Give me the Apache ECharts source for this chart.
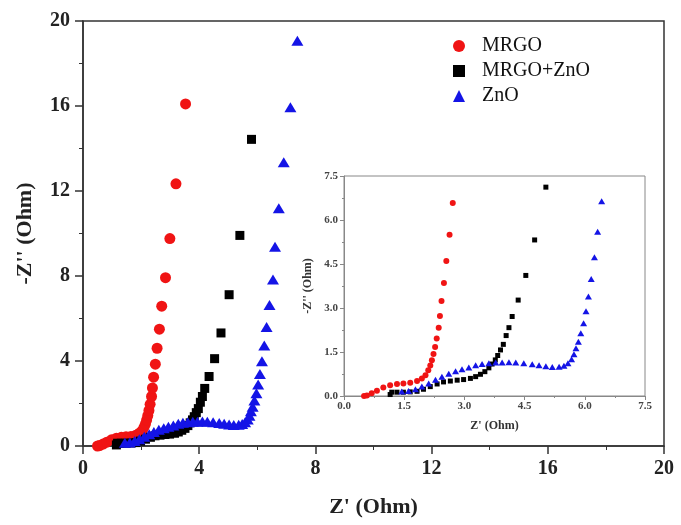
<!DOCTYPE html>
<html>
<head>
<meta charset="utf-8">
<script src="https://cdn.jsdelivr.net/npm/echarts@6/dist/echarts.min.js"></script>
<style>
  html, body { margin: 0; padding: 0; background: #fff; }
  #chart { width: 681px; height: 525px; }
</style>
</head>
<body>
<div id="chart"></div>
<script>
// Nyquist data: Z' (Ohm) / -Z'' (Ohm)
const mrgoX = [0.50, 0.57, 0.69, 0.82, 0.98, 1.15, 1.32, 1.48, 1.65, 1.82, 1.94, 2.03, 2.10, 2.15, 2.19, 2.23, 2.27, 2.31, 2.36, 2.39, 2.43, 2.49, 2.55, 2.63, 2.71, 2.84, 2.99, 3.20, 3.53];
const mrgoY = [0.00, 0.02, 0.09, 0.18, 0.29, 0.37, 0.41, 0.43, 0.45, 0.51, 0.60, 0.71, 0.88, 1.04, 1.22, 1.43, 1.67, 1.96, 2.33, 2.73, 3.24, 3.85, 4.60, 5.50, 6.58, 7.92, 9.76, 12.34, 16.10];

const mixX = [1.15, 1.19, 1.32, 1.48, 1.65, 1.82, 1.98, 2.15, 2.32, 2.48, 2.65, 2.82, 2.98, 3.15, 3.28, 3.40, 3.51, 3.61, 3.69, 3.77, 3.83, 3.90, 3.97, 4.04, 4.11, 4.19, 4.34, 4.53, 4.75, 5.03, 5.40, 5.80];
const mixY = [0.05, 0.13, 0.13, 0.13, 0.14, 0.16, 0.23, 0.32, 0.41, 0.48, 0.51, 0.54, 0.56, 0.60, 0.66, 0.74, 0.83, 0.96, 1.09, 1.23, 1.38, 1.57, 1.76, 2.06, 2.33, 2.71, 3.27, 4.11, 5.32, 7.12, 9.91, 14.43];

const znoX = [1.44, 1.61, 1.78, 1.94, 2.11, 2.28, 2.44, 2.61, 2.78, 2.94, 3.11, 3.28, 3.44, 3.61, 3.78, 3.94, 4.11, 4.28, 4.48, 4.69, 4.86, 5.03, 5.19, 5.36, 5.48, 5.58, 5.67, 5.73, 5.78, 5.84, 5.90, 5.97, 6.03, 6.09, 6.16, 6.24, 6.32, 6.42, 6.54, 6.61, 6.74, 6.91, 7.14, 7.38];
const znoY = [0.15, 0.17, 0.23, 0.32, 0.43, 0.55, 0.66, 0.76, 0.84, 0.91, 0.97, 1.05, 1.09, 1.12, 1.14, 1.14, 1.15, 1.14, 1.12, 1.08, 1.05, 1.01, 0.99, 1.00, 1.03, 1.12, 1.25, 1.42, 1.63, 1.85, 2.14, 2.48, 2.89, 3.39, 3.99, 4.73, 5.60, 6.64, 7.84, 9.38, 11.19, 13.35, 15.94, 19.07];

const seriesNames = ["MRGO", "MRGO+ZnO", "ZnO"];

const FONT = "'Liberation Serif', 'Times New Roman', serif";

function pairs(xs, ys) {
  let out = [];
  for (let i = 0; i < xs.length; i++) out.push([xs[i], ys[i]]);
  return out;
}
// inset only shows the 0 - 7.5 window
function insetPairs(xs, ys) {
  return pairs(xs, ys).filter(p => p[0] <= 7.5 && p[1] <= 7.5);
}

const mainAxisLine = { show: true, lineStyle: { color: '#333', width: 1.5 } };
const insetAxisLine = { show: true, lineStyle: { color: '#888', width: 1 } };

const chart = echarts.init(document.getElementById('chart'));

chart.setOption({
  animation: false,
  backgroundColor: '#fff',
  legend: {
    data: [
      { name: seriesNames[0], icon: 'circle' },
      { name: seriesNames[1], icon: 'rect' },
      { name: seriesNames[2], icon: 'triangle' }
    ],
    orient: 'vertical',
    left: 448,
    top: 31,
    itemWidth: 12,
    itemHeight: 12,
    itemGap: 5,
    textStyle: { fontFamily: FONT, fontSize: 20, color: '#111', padding: [0, 0, 0, 12] }
  },
  grid: [
    { left: 83, right: 17, top: 21, bottom: 79, show: true, borderColor: '#333', borderWidth: 1.5 },
    { left: 344, right: 36, top: 176, bottom: 129, show: true, borderColor: '#888', borderWidth: 1, backgroundColor: '#fff' }
  ],
  xAxis: [
    {
      gridIndex: 0, type: 'value', min: 0, max: 20, interval: 4,
      name: "Z' (Ohm)", nameLocation: 'middle', nameGap: 50,
      nameTextStyle: { fontFamily: FONT, fontSize: 22, fontWeight: 'bold', color: '#222' },
      axisLine: mainAxisLine,
      axisTick: { show: true, inside: false, length: 8, lineStyle: { color: '#333', width: 1.5 } },
      minorTick: { show: true, splitNumber: 2, length: 4, lineStyle: { color: '#333' } },
      axisLabel: { fontFamily: FONT, fontSize: 20, fontWeight: 'bold', color: '#222', margin: 13 },
      splitLine: { show: false }
    },
    {
      gridIndex: 1, type: 'value', min: 0, max: 7.5, interval: 1.5,
      name: "Z' (Ohm)", nameLocation: 'middle', nameGap: 24,
      nameTextStyle: { fontFamily: FONT, fontSize: 12, fontWeight: 'bold', color: '#333' },
      axisLine: insetAxisLine,
      axisTick: { show: true, length: 4, lineStyle: { color: '#888' } },
      minorTick: { show: true, splitNumber: 2, length: 2, lineStyle: { color: '#888' } },
      axisLabel: { fontFamily: FONT, fontSize: 11, fontWeight: 'bold', color: '#444', margin: 5,
        formatter: v => v.toFixed(1) },
      splitLine: { show: false }
    }
  ],
  yAxis: [
    {
      gridIndex: 0, type: 'value', min: 0, max: 20, interval: 4,
      name: "-Z'' (Ohm)", nameLocation: 'middle', nameGap: 47, nameRotate: 90,
      nameTextStyle: { fontFamily: FONT, fontSize: 22, fontWeight: 'bold', color: '#222' },
      axisLine: mainAxisLine,
      axisTick: { show: true, length: 8, lineStyle: { color: '#333', width: 1.5 } },
      minorTick: { show: true, splitNumber: 2, length: 4, lineStyle: { color: '#333' } },
      axisLabel: { fontFamily: FONT, fontSize: 20, fontWeight: 'bold', color: '#222', margin: 13 },
      splitLine: { show: false }
    },
    {
      gridIndex: 1, type: 'value', min: 0, max: 7.5, interval: 1.5,
      name: "-Z'' (Ohm)", nameLocation: 'middle', nameGap: 30, nameRotate: 90,
      nameTextStyle: { fontFamily: FONT, fontSize: 12, fontWeight: 'bold', color: '#333' },
      axisLine: insetAxisLine,
      axisTick: { show: true, length: 4, lineStyle: { color: '#888' } },
      minorTick: { show: true, splitNumber: 2, length: 2, lineStyle: { color: '#888' } },
      axisLabel: { fontFamily: FONT, fontSize: 11, fontWeight: 'bold', color: '#444', margin: 6,
        formatter: v => v.toFixed(1) },
      splitLine: { show: false }
    }
  ],
  series: [
    // main plot, blue drawn over the others like in the picture
    { name: seriesNames[0], type: 'scatter', xAxisIndex: 0, yAxisIndex: 0, symbol: 'circle', symbolSize: 11,
      itemStyle: { color: '#f01414', opacity: 1 }, data: pairs(mrgoX, mrgoY), z: 2 },
    { name: seriesNames[1], type: 'scatter', xAxisIndex: 0, yAxisIndex: 0, symbol: 'rect', symbolSize: 9,
      itemStyle: { color: '#000', opacity: 1 }, data: pairs(mixX, mixY), z: 2 },
    { name: seriesNames[2], type: 'scatter', xAxisIndex: 0, yAxisIndex: 0, symbol: 'triangle', symbolSize: [12, 10],
      itemStyle: { color: '#1414e6', opacity: 1 }, data: pairs(znoX, znoY), z: 3 },
    // inset
    { name: seriesNames[0], type: 'scatter', xAxisIndex: 1, yAxisIndex: 1, symbol: 'circle', symbolSize: 6,
      itemStyle: { color: '#f01414', opacity: 1 }, data: insetPairs(mrgoX, mrgoY), z: 5 },
    { name: seriesNames[1], type: 'scatter', xAxisIndex: 1, yAxisIndex: 1, symbol: 'rect', symbolSize: 5,
      itemStyle: { color: '#000', opacity: 1 }, data: insetPairs(mixX, mixY), z: 5 },
    { name: seriesNames[2], type: 'scatter', xAxisIndex: 1, yAxisIndex: 1, symbol: 'triangle', symbolSize: [7, 6],
      itemStyle: { color: '#1414e6', opacity: 1 }, data: insetPairs(znoX, znoY), z: 6 }
  ]
});
</script>
</body>
</html>
